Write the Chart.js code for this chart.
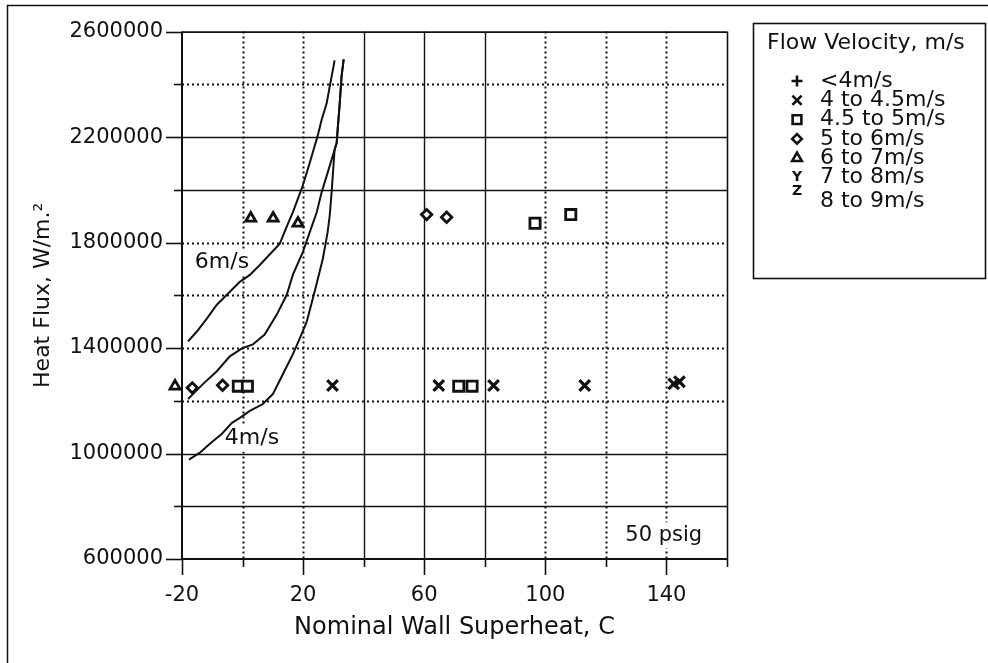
<!DOCTYPE html>
<html>
<head>
<meta charset="utf-8">
<title>Heat flux vs wall superheat</title>
<script src="https://cdn.jsdelivr.net/npm/chart.js@4.4.1/dist/chart.umd.min.js"></script>
<style>
  html, body { margin: 0; padding: 0; background: #fff; }
  #wrap { width: 988px; height: 663px; }
</style>
</head>
<body>
<div id="wrap"><canvas id="chart" width="988" height="663"></canvas></div>
<script>
// axis labels that get printed (the other grid steps stay blank)
const xTickLabels = [-20, 20, 60, 100, 140];
const yTickLabels = [600000, 1000000, 1400000, 1800000, 2200000, 2600000];

// flow velocity bands
const bandLabels = ["<4m/s", "4 to 4.5m/s", "4.5 to 5m/s", "5 to 6m/s", "6 to 7m/s", "7 to 8m/s", "8 to 9m/s"];

// measured points: nominal wall superheat (C) and heat flux (W/m2)
const superheat4to45 = [29.7, 64.8, 82.9, 113.0, 142.4, 144.3];
const flux4to45 = [1258000, 1258000, 1258000, 1258000, 1264000, 1272000];

const superheat45to5 = [-1.4, 1.6, 71.4, 75.8, 96.6, 108.4];
const flux45to5 = [1255500, 1255500, 1255500, 1255500, 1873000, 1906000];

const superheat5to6 = [-16.6, -6.6, 60.8, 67.4];
const flux5to6 = [1249000, 1259000, 1906000, 1896000];

const superheat6to7 = [-26.7, -22.3, 2.7, 10.1, 18.3];
const flux6to7 = [1262000, 1255500, 1892000, 1892000, 1873000];

// onset curves
const curve6X = [-18.0, -15.1, -11.8, -8.5, -5.2, -0.9, 2.4, 5.7, 12.3, 14.9, 16.6, 18.2, 19.9, 22.2, 24.8, 26.1, 27.8, 28.8, 29.8, 30.4];
const curve6Y = [1425000, 1462700, 1511600, 1564300, 1602000, 1651000, 1677300, 1715000, 1796000, 1869400, 1914600, 1963500, 2016300, 2102900, 2204600, 2264800, 2328800, 2392900, 2453100, 2490800];

const curveMidX = [-18.0, -16.4, -13.1, -8.5, -4.2, -0.2, 3.4, 7.3, 11.3, 14.6, 16.6, 19.9, 22.2, 24.5, 26.1, 27.8, 30.4, 31.1, 31.4, 32.1, 32.7, 33.4];
const curveMidY = [1206600, 1225400, 1263100, 1312000, 1368500, 1398600, 1413700, 1451400, 1526700, 1602000, 1677300, 1763900, 1839300, 1914600, 1989900, 2053900, 2151800, 2178200, 2227200, 2328800, 2430500, 2494600];

const curve4X = [-17.7, -14.1, -10.8, -6.8, -3.5, -0.9, 2.4, 6.7, 10.0, 13.3, 16.6, 18.9, 21.2, 23.8, 26.5, 28.1, 28.8, 29.4, 29.8, 30.4, 31.1, 31.4, 32.1, 32.7, 33.4];
const curve4Y = [976900, 1003200, 1037100, 1074800, 1116200, 1135000, 1161400, 1187700, 1225400, 1300700, 1376000, 1436300, 1500300, 1613300, 1737600, 1839300, 1903300, 1989900, 2053900, 2151800, 2178200, 2227200, 2328800, 2430500, 2494600];

const pts = (xs, ys) => xs.map((x, i) => ({ x, y: ys[i] }));

const FONT = "'DejaVu Sans', Verdana, sans-serif";
const INK = "#111";

// grid lines drawn solid, the rest are dotted
const solidX = [40, 60, 80];
const solidY = [800000, 1000000, 2000000, 2200000];

function marker(label, style, radius, data, width) {
    return {
        type: "scatter",
        label,
        data,
        pointStyle: style,
        pointRadius: radius,
        pointHoverRadius: radius,
        pointBorderWidth: width || 2.6,
        pointBorderColor: INK,
        pointBackgroundColor: "#fff",
        clip: false
    };
}

function curve(data) {
    return {
        type: "scatter",
        label: "",
        data,
        showLine: true,
        borderColor: INK,
        borderWidth: 2,
        pointRadius: 0,
        tension: 0,
        fill: false
    };
}

const datasets = [
    curve(pts(curve6X, curve6Y)),
    curve(pts(curveMidX, curveMidY)),
    curve(pts(curve4X, curve4Y)),
    marker(bandLabels[0], "cross", 7, []),
    marker(bandLabels[1], "crossRot", 7.5, pts(superheat4to45, flux4to45), 3.2),
    marker(bandLabels[2], "rect", 7.2, pts(superheat45to5, flux45to5), 2.8),
    marker(bandLabels[3], "rectRot", 5.2, pts(superheat5to6, flux5to6), 2.8),
    marker(bandLabels[4], "triangle", 5.8, pts(superheat6to7, flux6to7), 2.8),
    Object.assign(marker(bandLabels[5], "circle", 0, []), { glyph: "Y" }),
    Object.assign(marker(bandLabels[6], "circle", 0, []), { glyph: "Z" })
];

function stroke(ctx, x1, y1, x2, y2, solid, width) {
    ctx.beginPath();
    ctx.setLineDash(solid ? [] : [2, 3]);
    ctx.lineWidth = width;
    ctx.moveTo(x1, y1);
    ctx.lineTo(x2, y2);
    ctx.stroke();
}

function boxedText(ctx, text, cx, cy, font) {
    ctx.font = font;
    const w = ctx.measureText(text).width;
    ctx.fillStyle = "#fff";
    ctx.fillRect(cx - w / 2 - 3, cy - 13, w + 6, 26);
    ctx.fillStyle = INK;
    ctx.textAlign = "center";
    ctx.textBaseline = "middle";
    ctx.fillText(text, cx, cy);
}

// grid, axis frame, in-plot notes and the legend box
const paper = {
    id: "paper",
    beforeDatasetsDraw(chart) {
        const { ctx, chartArea: a, scales: { x, y } } = chart;
        ctx.save();
        ctx.strokeStyle = INK;

        x.ticks.forEach(t => {
            const px = Math.round(x.getPixelForValue(t.value)) + 0.5;
            if (t.value > x.min && t.value < x.max) {
                const solid = solidX.includes(t.value);
                stroke(ctx, px, a.top, px, a.bottom, solid, solid ? 1.4 : 2);
            }
            const len = xTickLabels.includes(t.value) ? 16 : 8;
            stroke(ctx, px, a.bottom, px, a.bottom + len, true, 1.6);
        });

        y.ticks.forEach(t => {
            const py = Math.round(y.getPixelForValue(t.value)) + 0.5;
            if (t.value > y.min && t.value < y.max) {
                const solid = solidY.includes(t.value);
                stroke(ctx, a.left, py, a.right, py, solid, solid ? 1.4 : 2);
            }
            const len = yTickLabels.includes(t.value) ? 16 : 8;
            stroke(ctx, a.left - len, py, a.left, py, true, 1.6);
        });

        // plot frame
        stroke(ctx, a.left, a.top, a.left, a.bottom + 1, true, 2);
        stroke(ctx, a.left, a.bottom, a.right, a.bottom, true, 2);
        stroke(ctx, a.left, a.top + 0.5, a.right, a.top + 0.5, true, 1.6);
        stroke(ctx, a.right + 0.5, a.top, a.right + 0.5, a.bottom, true, 1.6);

        // curve names and test condition
        const f = "22px " + FONT;
        boxedText(ctx, "6m/s", x.getPixelForValue(-6.8), y.getPixelForValue(1726000), f);
        boxedText(ctx, "4m/s", x.getPixelForValue(3.1), y.getPixelForValue(1056000), f);
        boxedText(ctx, "50 psig", x.getPixelForValue(139.1), y.getPixelForValue(690000), "21px " + FONT);
        ctx.restore();
    },
    afterDraw(chart) {
        const { ctx, width, height } = chart;
        ctx.save();
        ctx.strokeStyle = INK;

        // page frame
        stroke(ctx, 7.5, 5, 7.5, height, true, 1.5);
        stroke(ctx, 7, 5.5, width, 5.5, true, 1.5);

        // legend
        const box = { left: 753.5, top: 23.5, right: 985.5, bottom: 278.5 };
        ctx.lineWidth = 1.6;
        ctx.setLineDash([]);
        ctx.strokeRect(box.left, box.top, box.right - box.left, box.bottom - box.top);

        ctx.fillStyle = INK;
        ctx.textAlign = "left";
        ctx.textBaseline = "middle";
        ctx.font = "22px " + FONT;
        ctx.fillText("Flow Velocity, m/s", 767, 43);

        const legendRadius = { cross: 5.5, crossRot: 6.5, rect: 6.2, rectRot: 4.8, triangle: 5.5 };
        chart.data.datasets.filter(d => d.label).forEach((d, i) => {
            const cy = 81 + i * 19.3;
            const sx = 797;
            if (d.glyph) {
                ctx.font = "bold 14px " + FONT;
                ctx.textAlign = "center";
                ctx.fillText(d.glyph, sx, d.glyph === "Z" ? cy - 5 : cy);
            } else {
                // drawPoint strokes with whatever lineWidth the context holds
                ctx.fillStyle = "#fff";
                ctx.lineWidth = 2.6;
                Chart.helpers.drawPoint(ctx, {
                    pointStyle: d.pointStyle,
                    radius: legendRadius[d.pointStyle],
                    rotation: 0,
                    borderWidth: 2.6
                }, sx, cy);
                ctx.fillStyle = INK;
            }
            ctx.font = "22px " + FONT;
            ctx.textAlign = "left";
            ctx.fillText(d.label, 820, d.glyph === "Z" ? cy + 4 : cy);
        });
        ctx.restore();
    }
};

Chart.defaults.font.family = FONT;
Chart.defaults.color = INK;

new Chart(document.getElementById("chart"), {
    type: "scatter",
    data: { datasets },
    options: {
        responsive: false,
        animation: false,
        events: [],
        layout: { padding: { left: 0, top: 28, right: 261, bottom: 0 } },
        plugins: {
            legend: { display: false },
            tooltip: { enabled: false }
        },
        scales: {
            x: {
                type: "linear",
                min: -20,
                max: 160,
                grid: { display: false, drawTicks: false },
                border: { display: false },
                ticks: {
                    stepSize: 20,
                    autoSkip: false,
                    maxRotation: 0,
                    padding: 24,
                    font: { size: 21 },
                    callback: v => xTickLabels.includes(v) ? String(v) : ""
                },
                title: {
                    display: true,
                    text: "Nominal Wall Superheat, C",
                    font: { size: 24 },
                    padding: { top: 0, bottom: 21 }
                },
                afterFit: s => { s.height = 104; }
            },
            y: {
                type: "linear",
                min: 600000,
                max: 2600000,
                grid: { display: false, drawTicks: false },
                border: { display: false },
                ticks: {
                    stepSize: 200000,
                    autoSkip: false,
                    padding: 19,
                    font: { size: 21 },
                    callback: v => yTickLabels.includes(v) ? String(v) : ""
                },
                title: {
                    display: true,
                    text: "Heat Flux, W/m.²",
                    font: { size: 22 },
                    padding: { top: 30, bottom: 0 }
                },
                afterFit: s => { s.width = 182; }
            }
        }
    },
    plugins: [paper]
});
</script>
</body>
</html>
